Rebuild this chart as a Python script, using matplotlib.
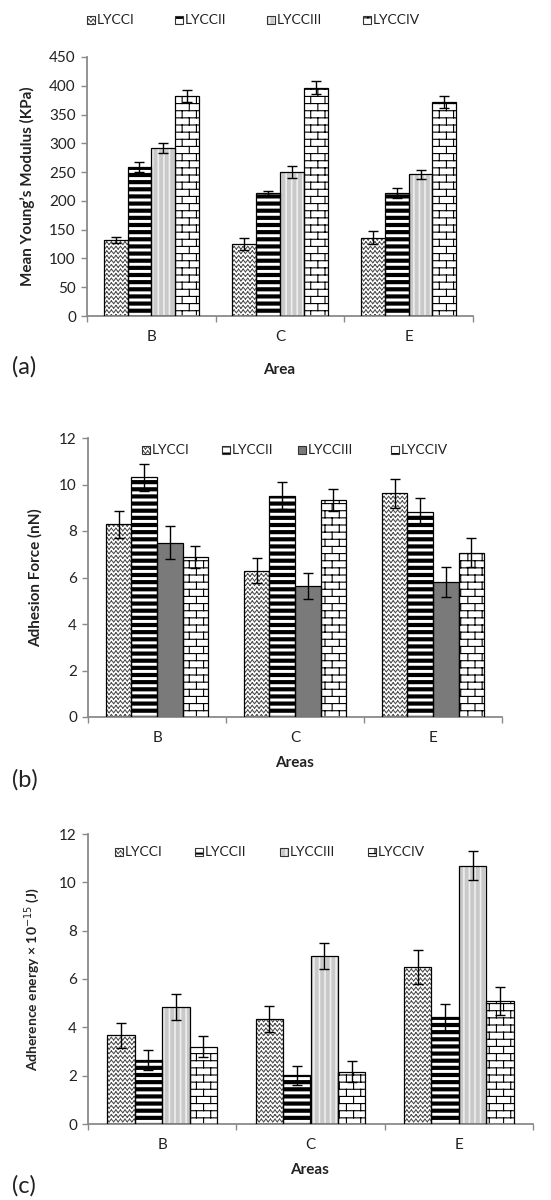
import numpy as np
import matplotlib
matplotlib.use("Agg")
import matplotlib.pyplot as plt
import matplotlib.hatch as mhatch
from matplotlib.path import Path
from matplotlib.patches import Rectangle

# ---------------- data ----------------
categories = ['B', 'C', 'E']
series = ['LYCCI', 'LYCCII', 'LYCCIII', 'LYCCIV']

young_I = [132, 125, 136]
young_I_err = [6, 10, 11]
young_II = [259, 214, 214]
young_II_err = [8, 4, 9]
young_III = [292, 250, 246]
young_III_err = [8, 10, 8]
young_IV = [382, 397, 372]
young_IV_err = [10, 12, 10]

adh_I = [8.29, 6.29, 9.62]
adh_I_err = [0.59, 0.54, 0.61]
adh_II = [10.31, 9.52, 8.83]
adh_II_err = [0.57, 0.57, 0.57]
adh_III = [7.50, 5.63, 5.82]
adh_III_err = [0.70, 0.57, 0.65]
adh_IV = [6.90, 9.33, 7.07]
adh_IV_err = [0.47, 0.48, 0.61]

en_I = [3.68, 4.34, 6.48]
en_I_err = [0.52, 0.54, 0.70]
en_II = [2.65, 2.01, 4.41]
en_II_err = [0.43, 0.41, 0.55]
en_III = [4.85, 6.96, 10.69]
en_III_err = [0.53, 0.55, 0.60]
en_IV = [3.20, 2.17, 5.09]
en_IV_err = [0.43, 0.45, 0.56]

young_ticks = [0, 50, 100, 150, 200, 250, 300, 350, 400, 450]
adh_ticks = [0, 2, 4, 6, 8, 10, 12]
en_ticks = [0, 2, 4, 6, 8, 10, 12]


# ---------------- custom hatches (zigzag, stripes, brick) ----------------
MOVETO, LINETO = Path.MOVETO, Path.LINETO


class ZigZagHatch(mhatch.HatchPatternBase):
    def __init__(self, hatch, density):
        self.n = 22 if 'o' in hatch else 0
        self.num_vertices = 4 * self.n * self.n

    def set_vertices_and_codes(self, vertices, codes):
        n = self.n
        i = 0
        for r in range(n):
            y0 = (r + 0.2) / n
            y1 = (r + 0.8) / n
            for p in range(n):
                x0 = p / n
                xm = (p + 0.5) / n
                x1 = (p + 1) / n
                vertices[i] = (x0, y0)
                vertices[i + 1] = (xm, y1)
                vertices[i + 2] = (xm, y1)
                vertices[i + 3] = (x1, y0)
                codes[i] = MOVETO
                codes[i + 1] = LINETO
                codes[i + 2] = MOVETO
                codes[i + 3] = LINETO
                i += 4


class StripeHatch(mhatch.HatchPatternBase):
    def __init__(self, hatch, density):
        self.n = 14 if 'O' in hatch else 0
        self.num_vertices = 2 * self.n

    def set_vertices_and_codes(self, vertices, codes):
        n = self.n
        for k in range(n):
            y = (k + 0.5) / n
            vertices[2 * k] = (0, y)
            vertices[2 * k + 1] = (1, y)
            codes[2 * k] = MOVETO
            codes[2 * k + 1] = LINETO


class BrickHatch(mhatch.HatchPatternBase):
    rows = 14
    cols = 7

    def __init__(self, hatch, density):
        self.on = '*' in hatch
        self.segs = []
        if self.on:
            R, C = self.rows, self.cols
            for k in range(R):
                y0 = (k + 0.5) / R
                y1 = (k + 1.5) / R
                self.segs.append(((0, y0), (1, y0)))
                off = (k % 2) * 0.5 / C + 0.25 / C
                for j in range(C):
                    x = j / C + off
                    if y1 <= 1:
                        self.segs.append(((x, y0), (x, y1)))
                    else:
                        self.segs.append(((x, y0), (x, 1.0)))
                        self.segs.append(((x, 0.0), (x, y1 - 1)))
        self.num_vertices = 2 * len(self.segs)

    def set_vertices_and_codes(self, vertices, codes):
        for i, (a, b) in enumerate(self.segs):
            vertices[2 * i] = a
            vertices[2 * i + 1] = b
            codes[2 * i] = MOVETO
            codes[2 * i + 1] = LINETO


mhatch._hatch_types = [mhatch.HorizontalHatch, mhatch.VerticalHatch,
                       mhatch.NorthEastHatch, mhatch.SouthEastHatch,
                       ZigZagHatch, StripeHatch, mhatch.SmallFilledCircles,
                       BrickHatch]

# ---------------- styles ----------------
plt.rcParams['font.family'] = ['Lato', 'DejaVu Sans']
plt.rcParams['mathtext.fontset'] = 'dejavusans'

STY_I = dict(face='white', hcol='#505050', hatch='o', hlw=0.75)
STY_II = dict(face='white', hcol='black', hatch='O', hlw=3.0)
STY_III = dict(face='#c9c9c9', hcol='#efefef', hatch='|||', hlw=1.2)
STY_III_B = dict(face='#7a7a7a', hcol='#7a7a7a', hatch=None, hlw=0.5)
STY_IV = dict(face='white', hcol='black', hatch='*', hlw=0.8)

W, H = 551, 1200
fig = plt.figure(figsize=(W / 100, H / 100), dpi=100)
fig.patch.set_facecolor('white')

SPINE = '#8a8a8a'
TXT = '#222222'


def px_axes(l, r, t, b):
    return fig.add_axes([l / W, 1 - b / H, (r - l) / W, (b - t) / H])


def set_hlw(artist, lw):
    if hasattr(artist, 'set_hatch_linewidth'):
        artist.set_hatch_linewidth(lw)


def draw_bars(ax, vals, errs, styles, width=0.185):
    x = np.arange(len(categories))
    for i, (v, e, s) in enumerate(zip(vals, errs, styles)):
        xi = x + (i - 1.5) * width
        with plt.rc_context({'hatch.linewidth': s['hlw']}):
            bars = ax.bar(xi, v, width, color=s['face'], edgecolor=s['hcol'],
                          hatch=s['hatch'], linewidth=0, zorder=2)
        for b in bars:
            set_hlw(b, s['hlw'])
        ax.bar(xi, v, width, fill=False, edgecolor='black', linewidth=0.9, zorder=3)
        ax.errorbar(xi, v, yerr=e, fmt='none', ecolor='black', elinewidth=1.0,
                    capsize=3.6, capthick=1.0, zorder=4)


def style_axes(ax, ymax, yticks):
    ax.set_xlim(-0.5, len(categories) - 0.5)
    ax.set_ylim(0, ymax)
    for s in ['top', 'right']:
        ax.spines[s].set_visible(False)
    for s in ['left', 'bottom']:
        ax.spines[s].set_color(SPINE)
        ax.spines[s].set_linewidth(1.3)
    ax.set_yticks(yticks)
    ax.tick_params(axis='y', length=4, width=1, color=SPINE, labelsize=11,
                   labelcolor=TXT, pad=4)
    ax.set_xticks(np.arange(len(categories) + 1) - 0.5)
    ax.set_xticklabels([])
    ax.tick_params(axis='x', which='major', length=4, width=1, color=SPINE)
    ax.set_xticks(np.arange(len(categories)), minor=True)
    ax.set_xticklabels(categories, minor=True)
    ax.tick_params(axis='x', which='minor', length=0, pad=10, labelsize=11,
                   labelcolor=TXT)


def legend_row(xs, yc, styles, labels, size=8):
    for x, s, lab in zip(xs, styles, labels):
        with plt.rc_context({'hatch.linewidth': min(s['hlw'], 1.5)}):
            r = Rectangle((x / W, 1 - (yc + size / 2) / H), size / W, size / H,
                          transform=fig.transFigure, facecolor=s['face'],
                          edgecolor=s['hcol'], hatch=s['hatch'], linewidth=0)
        set_hlw(r, min(s['hlw'], 1.5))
        fig.add_artist(r)
        fig.add_artist(Rectangle((x / W, 1 - (yc + size / 2) / H), size / W, size / H,
                                 transform=fig.transFigure, fill=False,
                                 edgecolor='#333333', linewidth=0.8))
        fig.text((x + size + 1.5) / W, 1 - yc / H, lab, fontsize=10,
                 color=TXT, va='center', ha='left')


# ---------------- panel (a) ----------------
axa = px_axes(87, 473, 57, 316)
draw_bars(axa, [young_I, young_II, young_III, young_IV],
          [young_I_err, young_II_err, young_III_err, young_IV_err],
          [STY_I, STY_II, STY_III, STY_IV])
style_axes(axa, 450, young_ticks)
axa.set_ylabel("Mean Young\u2019s Modulus (KPa)", fontsize=11,
               fontweight='bold', color=TXT)
axa.yaxis.set_label_coords(-0.135, 0.5)
axa.set_xlabel('Area', fontsize=11, fontweight='bold', color=TXT)
axa.xaxis.set_label_coords(0.497, -0.18)
legend_row([87, 175, 267, 363], 20, [STY_I, STY_II, STY_III, STY_IV], series)
fig.text(12 / W, 1 - 367 / H, '(a)', fontsize=17, color=TXT, va='center', ha='left')

# ---------------- panel (b) ----------------
axb = px_axes(88, 502, 438, 717)
draw_bars(axb, [adh_I, adh_II, adh_III, adh_IV],
          [adh_I_err, adh_II_err, adh_III_err, adh_IV_err],
          [STY_I, STY_II, STY_III_B, STY_IV])
style_axes(axb, 12, adh_ticks)
axb.set_ylabel('Adhesion Force (nN)', fontsize=11, fontweight='bold', color=TXT)
axb.yaxis.set_label_coords(-0.109, 0.5)
axb.set_xlabel('Areas', fontsize=11, fontweight='bold', color=TXT)
axb.xaxis.set_label_coords(0.5, -0.14)
legend_row([142, 222, 298, 391], 450, [STY_I, STY_II, STY_III_B, STY_IV], series)
fig.text(12 / W, 1 - 780 / H, '(b)', fontsize=17, color=TXT, va='center', ha='left')

# ---------------- panel (c) ----------------
axc = px_axes(88, 533, 834, 1124)
draw_bars(axc, [en_I, en_II, en_III, en_IV],
          [en_I_err, en_II_err, en_III_err, en_IV_err],
          [STY_I, STY_II, STY_III, STY_IV])
style_axes(axc, 12, en_ticks)
axc.set_ylabel('Adherence energy \u00d7 10$^{-15}$ (J)', fontsize=10,
               fontweight='bold', color=TXT)
axc.yaxis.set_label_coords(-0.103, 0.5)
axc.set_xlabel('Areas', fontsize=11, fontweight='bold', color=TXT)
axc.xaxis.set_label_coords(0.497, -0.134)
legend_row([115, 195, 280, 368], 852, [STY_I, STY_II, STY_III, STY_IV], series)
fig.text(12 / W, 1 - 1186 / H, '(c)', fontsize=17, color=TXT, va='center', ha='left')

fig.savefig('out.png', dpi=100)
